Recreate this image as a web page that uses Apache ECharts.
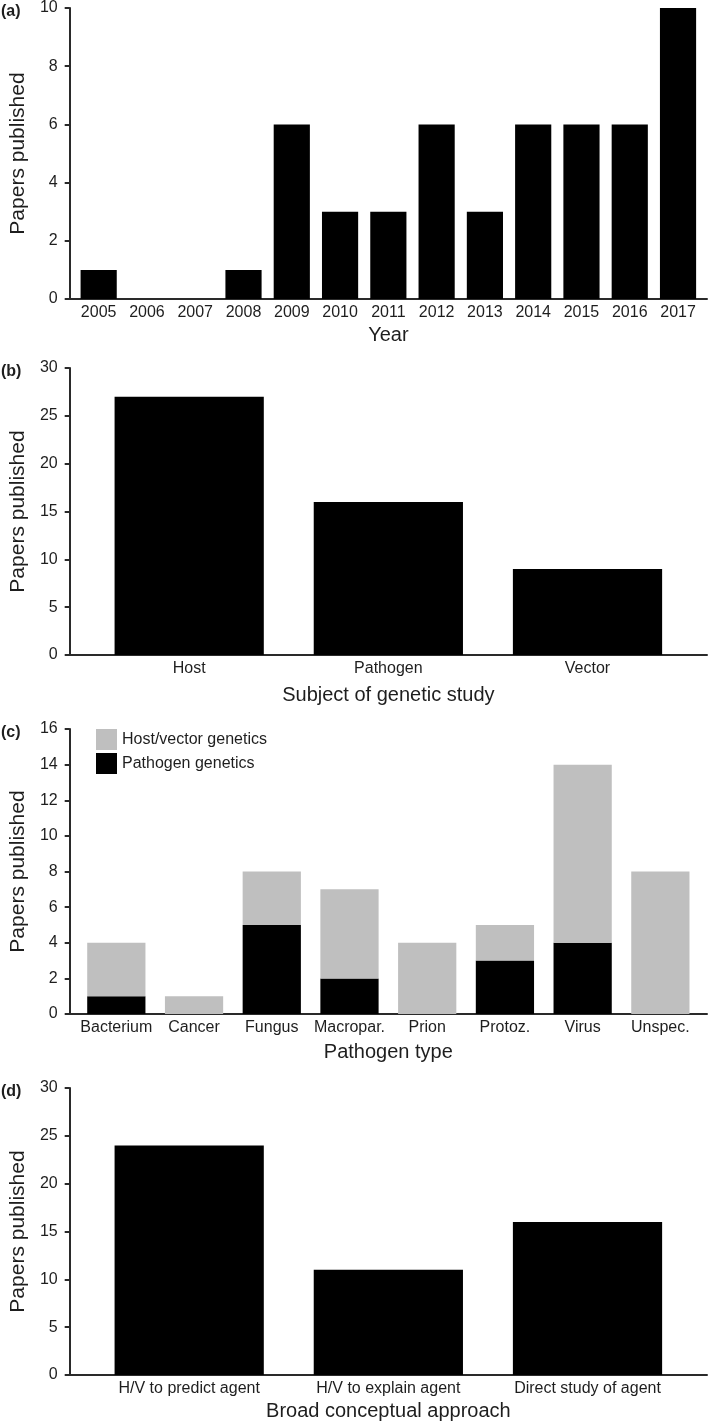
<!DOCTYPE html>
<html>
<head>
<meta charset="utf-8">
<script src="https://cdn.jsdelivr.net/npm/echarts@6/dist/echarts.min.js"></script>
<style>
html,body{margin:0;padding:0;background:#fff;}
#chart{width:709px;height:1425px;}
</style>
</head>
<body>
<div id="chart"></div>
<script>
// ---- data ----
const years = ['2005','2006','2007','2008','2009','2010','2011','2012','2013','2014','2015','2016','2017'];
const papersByYear = [1,0,0,1,6,3,3,6,3,6,6,6,10];

const subjects = ['Host','Pathogen','Vector'];
const papersBySubject = [27,16,9];

const pathogenTypes = ['Bacterium','Cancer','Fungus','Macropar.','Prion','Protoz.','Virus','Unspec.'];
const hostVectorGenetics = [3,1,3,5,4,2,10,8];
const pathogenGenetics = [1,0,5,2,0,3,4,0];

const approaches = ['H/V to predict agent','H/V to explain agent','Direct study of agent'];
const papersByApproach = [24,11,16];

const yMaxes = [10,30,16,30];
const yIntervals = [2,5,2,5];
const panelLabels = ['(a)','(b)','(c)','(d)'];
const xNames = ['Year','Subject of genetic study','Pathogen type','Broad conceptual approach'];
const yName = 'Papers published';

// ---- layout ----
const W = 709;
const gridLeft = 66, gridRight = 2;
const plotW = W - gridLeft - gridRight;
const grids = [
  {top: 8, height: 291},
  {top: 368, height: 287},
  {top: 729, height: 285},
  {top: 1088, height: 287}
];
const xNameGaps = [26, 30, 28, 26];
const FONT = '"Liberation Sans", Arial, Helvetica, sans-serif';
const TXT = '#1e1e1e';
const AXC = '#2a2a2a';

const catsList = [years, subjects, pathogenTypes, approaches];
function barW(n){ return 0.745 * plotW / (n + 0.2); }
// value first, category position second (so the value dimension is the stacked one)
function pairs(arr){ return arr.map((v,i)=>[v,i]); }
const ENC = {x: 1, y: 0};

const option = {
  animation: false,
  backgroundColor: '#fff',
  textStyle: {fontFamily: FONT},
  title: grids.map((g,i)=>({
    text: panelLabels[i], left: 1, top: g.top - 4, padding: 0,
    textStyle: {fontFamily: FONT, fontSize: 16, fontWeight: 'bold', color: TXT}
  })),
  legend: {
    data: ['Host/vector genetics','Pathogen genetics'],
    orient: 'vertical', left: 96, top: 729, padding: 0,
    itemWidth: 21, itemHeight: 21, itemGap: 3,
    icon: 'rect',
    textStyle: {fontFamily: FONT, fontSize: 16, color: TXT}
  },
  grid: grids.map(g=>({left: gridLeft, right: gridRight, top: g.top, height: g.height, containLabel: false})),
  xAxis: catsList.map((cats,i)=>({
    type: 'value', gridIndex: i, min: -0.6, max: cats.length - 0.4,
    name: xNames[i], nameLocation: 'middle', nameGap: xNameGaps[i],
    nameTextStyle: {fontFamily: FONT, fontSize: 20, color: TXT},
    axisLine: {show: true, onZero: false, lineStyle: {color: AXC, width: 2}},
    axisTick: {show: false},
    splitLine: {show: false},
    axisLabel: {
      customValues: cats.map((c,k)=>k),
      formatter: v => cats[Math.round(v)],
      fontFamily: FONT, fontSize: 16, color: TXT, margin: 6
    }
  })),
  yAxis: yMaxes.map((m,i)=>({
    type: 'value', gridIndex: i, min: 0, max: m, interval: yIntervals[i],
    name: yName, nameLocation: 'middle', nameGap: 38, nameRotate: 90,
    nameTextStyle: {fontFamily: FONT, fontSize: 21, color: TXT},
    axisLine: {show: true, onZero: false, lineStyle: {color: AXC, width: 2}},
    axisTick: {show: true, length: 5, lineStyle: {color: AXC, width: 2}},
    splitLine: {show: false},
    axisLabel: {fontFamily: FONT, fontSize: 16, color: TXT, margin: 12}
  })),
  series: [
    {type: 'bar', name: 'year', xAxisIndex: 0, yAxisIndex: 0, data: pairs(papersByYear), encode: ENC,
     barWidth: barW(years.length), itemStyle: {color: '#000'}},
    {type: 'bar', name: 'subject', xAxisIndex: 1, yAxisIndex: 1, data: pairs(papersBySubject), encode: ENC,
     barWidth: barW(subjects.length), itemStyle: {color: '#000'}},
    {type: 'bar', name: 'Pathogen genetics', xAxisIndex: 2, yAxisIndex: 2, stack: 'c', data: pairs(pathogenGenetics), encode: ENC,
     barWidth: barW(pathogenTypes.length), itemStyle: {color: '#000'}},
    {type: 'bar', name: 'Host/vector genetics', xAxisIndex: 2, yAxisIndex: 2, stack: 'c', data: pairs(hostVectorGenetics), encode: ENC,
     barWidth: barW(pathogenTypes.length), itemStyle: {color: '#bfbfbf'}},
    {type: 'bar', name: 'approach', xAxisIndex: 3, yAxisIndex: 3, data: pairs(papersByApproach), encode: ENC,
     barWidth: barW(approaches.length), itemStyle: {color: '#000'}}
  ]
};
const chart = echarts.init(document.getElementById('chart'), null, {renderer: 'canvas'});
chart.setOption(option);
</script>
</body>
</html>
